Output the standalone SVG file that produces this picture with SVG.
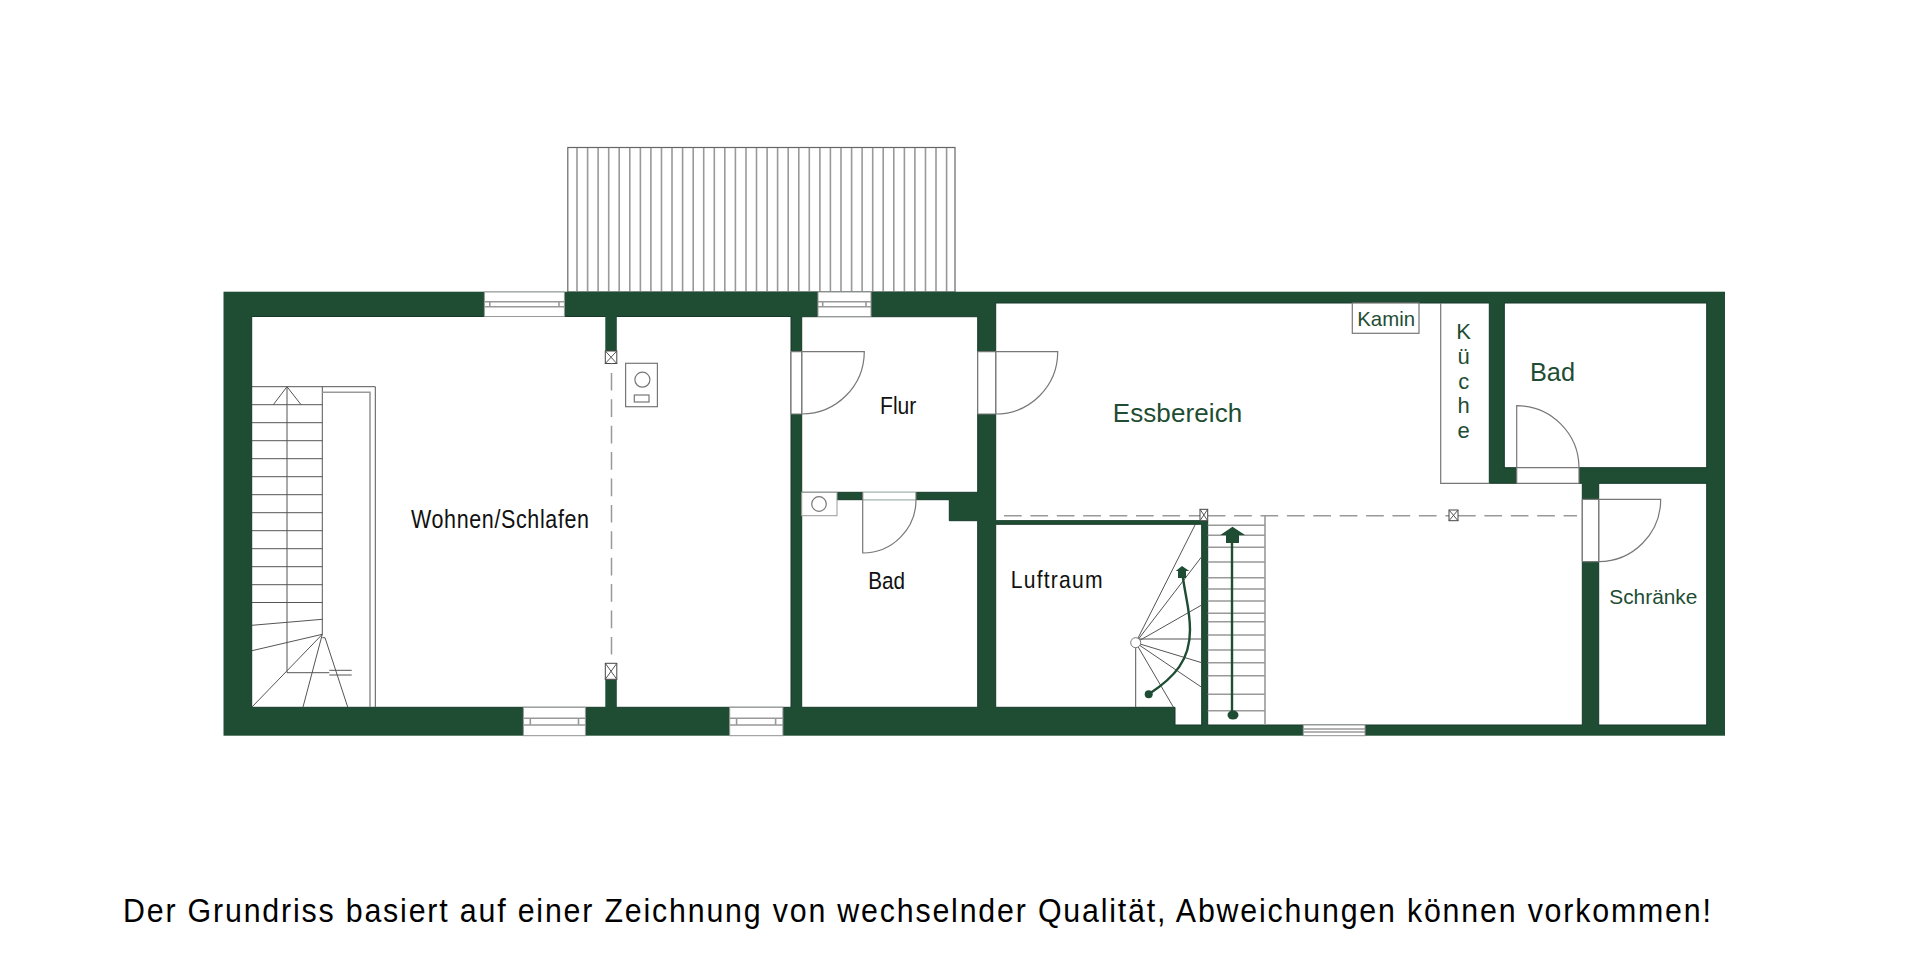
<svg xmlns="http://www.w3.org/2000/svg" width="1920" height="965" viewBox="0 0 1920 965">
<style>
.w{fill:#1e4d33}
.r{fill:#fff;stroke:#17392a;stroke-width:1}
.l,.n{fill:none;stroke:#777;stroke-width:1.2}
.n{stroke:#555;stroke-width:1}
.h{fill:none;stroke:#999;stroke-width:1.6}
.gap{fill:#fff;stroke:#999;stroke-width:1}
.d{fill:none;stroke:#999;stroke-width:1.5;stroke-dasharray:17.7 8.7}
.a{fill:#1e4d33;stroke:none}
.s{fill:none;stroke:#1e4d33}
text{font-family:"Liberation Sans",Arial,sans-serif}
.k{fill:#111}
.g{fill:#1e4d33}
</style>
<rect width="1920" height="965" fill="#fff"/>
<g id="terrasse">
<rect x="567.8" y="147.5" width="387.2" height="144.5" fill="#fff" stroke="#666" stroke-width="1.2"/>
<path class="h" d="M577 148V292M587.6 148V292M598.1 148V292M608.7 148V292M619.2 148V292M629.8 148V292M640.4 148V292M650.9 148V292M661.5 148V292M672 148V292M682.6 148V292M693.2 148V292M703.7 148V292M714.3 148V292M724.8 148V292M735.4 148V292M746 148V292M756.5 148V292M767.1 148V292M777.6 148V292M788.2 148V292M798.8 148V292M809.3 148V292M819.9 148V292M830.4 148V292M841 148V292M851.6 148V292M862.1 148V292M872.7 148V292M883.2 148V292M893.8 148V292M904.4 148V292M914.9 148V292M925.5 148V292M936 148V292M946.6 148V292"/>
</g>
<g id="waende">
<rect class="w" x="223.5" y="291.7" width="1501.5" height="444"/>
</g>
<g id="wohnen-schlafen">
<rect class="r" x="251.7" y="316.5" width="539.3" height="390.8"/>
<rect class="w" x="605.3" y="316" width="11.5" height="35"/>
<rect class="w" x="605.3" y="679.3" width="11.5" height="28.5"/>
<g fill="#fff" stroke="#444" stroke-width="1"><rect x="605.3" y="351" width="11.5" height="12.5"/><rect x="605.3" y="663.3" width="11.5" height="16"/></g>
<path class="n" d="M605.3 351L616.8 363.5M616.8 351L605.3 363.5M605.3 663.3L616.8 679.3M616.8 663.3L605.3 679.3"/>
<path class="d" d="M611.5 363.5V663.3" stroke-dashoffset="17"/>
<g id="herd" class="l"><rect x="625.6" y="363.3" width="31.8" height="43.4"/><circle cx="642.4" cy="379.7" r="7.5"/><rect x="634.3" y="395" width="14.7" height="7"/></g>
<g id="treppe-links">
<path class="n" d="M252 386.7H375.3V707M322.3 386.7V634.3M287 386.7V672.7M273.3 404.7L287 386.7L301 404.7M252 404.7H322.3M252 422.7H322.3M252 440.7H322.3M252 458.7H322.3M252 476.7H322.3M252 494.7H322.3M252 512.7H322.3M252 530.7H322.3M252 548.7H322.3M252 566.7H322.3M252 584.7H322.3M252 602.5H322.3M252 625.3L322.3 619.3M252 650.7L322.3 634.3M252 707L322.3 634.3M303 707L322.3 634.3M322.3 637.7H325L347.7 707M287 672.7H329.3M329.3 670.3H351.7M329.3 675H351.7"/>
<path class="h" d="M322.3 392.3H370V707"/>
</g>
</g>
<g id="flur">
<rect class="r" x="801.7" y="316.7" width="176" height="175.6"/>
</g>
<g id="bad-unten">
<path class="r" d="M801.7 499.7H949.3V520.7H977.7V707.3H801.7Z"/>
<rect class="gap" x="801.7" y="492.3" width="35.3" height="23.4"/>
<circle class="l" cx="819" cy="504" r="7.3"/>
</g>
<g id="essbereich">
<path class="r" d="M995.7 303H1489.3V483.3H1582.3V725H1207.7V520.7H995.7Z"/>
<rect x="1352.3" y="303" width="66.7" height="30.3" fill="#fff" stroke="#777" stroke-width="1.2"/>
<path class="l" d="M1440.7 303V483.3H1489.3"/>
<path class="w" d="M995.7 520.7H1207.7V524.3H995.7Z"/>
</g>
<g id="bad-oben"><rect class="r" x="1504.3" y="303" width="202.4" height="164.7"/></g>
<g id="schraenke"><rect class="r" x="1598.7" y="483.3" width="108" height="241.7"/></g>
<g id="luftraum">
<path class="r" d="M995.7 524.3H1201.7V725H1175V707.3H995.7Z"/>
<path class="n" d="M1135.7 642.7L1195 525M1135.7 642.7L1201.7 556.7M1135.7 642.7L1201.7 605M1135.7 639H1201.7M1135.7 642.7L1201.7 662.7M1135.7 642.7L1201.7 687.3M1135.7 642.7L1173.3 707M1135.7 642.7V707"/>
<circle cx="1135.7" cy="642.7" r="5" fill="#fff" stroke="#777"/>
<path class="s" stroke-width="2.4" d="M1148.7 694.3C1175 677 1190 660 1190 630C1190 610 1186 600 1182.7 576"/>
<circle class="a" cx="1148.7" cy="694.3" r="4"/>
<path class="a" d="M1175.7 571L1182 566L1189.3 571H1186V578H1178V571Z"/>
</g>
<g id="treppe-rechts">
<path class="h" d="M1207.7 525.3H1265M1207.7 535.3H1265M1207.7 547.3H1265M1207.7 562H1265M1207.7 577.7H1265M1207.7 589H1265M1207.7 601H1265M1207.7 613.3H1265M1207.7 621.7H1265M1207.7 635H1265M1207.7 650H1265M1207.7 662.7H1265M1207.7 675.7H1265M1207.7 694.3H1265M1207.7 710.7H1265M1265 515.7V725"/>
<path class="s" stroke-width="2.4" d="M1232 543V715"/>
<ellipse class="a" cx="1233" cy="715" rx="5.5" ry="4.5"/>
<path class="a" d="M1220.3 535L1232.5 526.7L1245 535H1239V543H1226V535Z"/>
</g>
<g id="fenster">
<g class="gap">
<rect x="484.4" y="292" width="80" height="24.5"/>
<rect x="818" y="292" width="53" height="24.5"/>
<rect x="523.4" y="707.3" width="62" height="28.4"/>
<rect x="729.7" y="707.3" width="53.2" height="28.4"/>
<rect x="1303.3" y="725" width="61.7" height="10.7"/>
</g>
<path class="h" stroke-width="1" d="M484.4 301.7H564.4M484.4 306.7H564.4M489.8 301.7V306.7M559 301.7V306.7M818 301.7H871M818 306.7H871M822.7 301.7V306.7M866 301.7V306.7M523.4 718.3H585.4M523.4 725H585.4M530.3 718.3V725M578.5 718.3V725M729.7 718.3H782.9M729.7 725H782.9M736.6 718.3V725M775.6 718.3V725M1303.3 729H1365M1303.3 732H1365"/>
</g>
<g id="tueren">
<g fill="#fff" stroke="none"><rect x="791" y="351.7" width="10.7" height="62.3"/><rect x="977.7" y="351.7" width="18" height="62.3"/><rect x="862.7" y="492.3" width="53.3" height="7.4"/><rect x="1516.7" y="467.7" width="62.3" height="15.6"/><rect x="1582.3" y="499.3" width="16.4" height="62.4"/></g>
<path class="l" d="M791 351.7V414M801.7 351.7V414M791 351.7H864.3A62.6 62.6 0 0 1 801.7 414H791"/>
<path class="l" d="M977.7 351.7V414M995.7 351.7V414M977.7 351.7H1057.7A62 62 0 0 1 995.7 414H977.7"/>
<path class="l" d="M862.7 492.3V553A53.3 53.3 0 0 0 916 499.7V492.3"/>
<path class="l" d="M1516.7 483.3V405.7A62.3 62.3 0 0 1 1579 467.7V483.3M1516.7 467.7H1579M1516.7 483.3H1579"/>
<path class="l" d="M1582.3 499.3V561.7M1598.7 499.3V561.7M1582.3 499.3H1660.7A62.4 62.4 0 0 1 1598.7 561.7H1582.3"/>
</g>
<g id="trennlinie">
<path class="d" d="M1004 515.7H1200M1207.7 515.7H1449M1458 515.7H1577"/>
<g fill="#fff" stroke="#444" stroke-width="1"><rect x="1200" y="509.3" width="7.7" height="11.4"/><rect x="1449" y="510" width="9" height="10.7"/></g>
<path class="n" d="M1200 509.3L1207.7 520.7M1207.7 509.3L1200 520.7M1449 510L1458 520.7M1458 510L1449 520.7"/>
</g>
<g id="beschriftung" font-size="25">
<text class="k" transform="translate(411 528.3) scale(.86 1)" textLength="207" lengthAdjust="spacing">Wohnen/Schlafen</text>
<text class="k" transform="translate(880 414.3) scale(.88 1)" font-size="24">Flur</text>
<text class="k" transform="translate(868.3 589.3) scale(.88 1)" font-size="23.5">Bad</text>
<text class="k" transform="translate(1010.7 588.3) scale(.88 1)" font-size="24" textLength="104.5" lengthAdjust="spacing">Luftraum</text>
<text class="g" x="1112.7" y="421.7" font-size="26" textLength="129.6" lengthAdjust="spacing">Essbereich</text>
<text class="g" x="1357.3" y="325.7" font-size="20.4" textLength="57.7" lengthAdjust="spacingAndGlyphs">Kamin</text>
<g class="g" font-size="22" text-anchor="middle"><text x="1463.7" y="339">K</text><text x="1463.7" y="364">ü</text><text x="1463.7" y="389">c</text><text x="1463.7" y="413.3">h</text><text x="1463.7" y="438.3">e</text></g>
<text class="g" x="1530" y="380.7" font-size="25.3" textLength="45" lengthAdjust="spacingAndGlyphs">Bad</text>
<text class="g" x="1609.3" y="604" font-size="21" textLength="88" lengthAdjust="spacingAndGlyphs">Schränke</text>
<text fill="#000" transform="translate(123 921.7) scale(.92 1)" font-size="33" textLength="1726" lengthAdjust="spacing">Der Grundriss basiert auf einer Zeichnung von wechselnder Qualität, Abweichungen können vorkommen!</text>
</g>
</svg>
